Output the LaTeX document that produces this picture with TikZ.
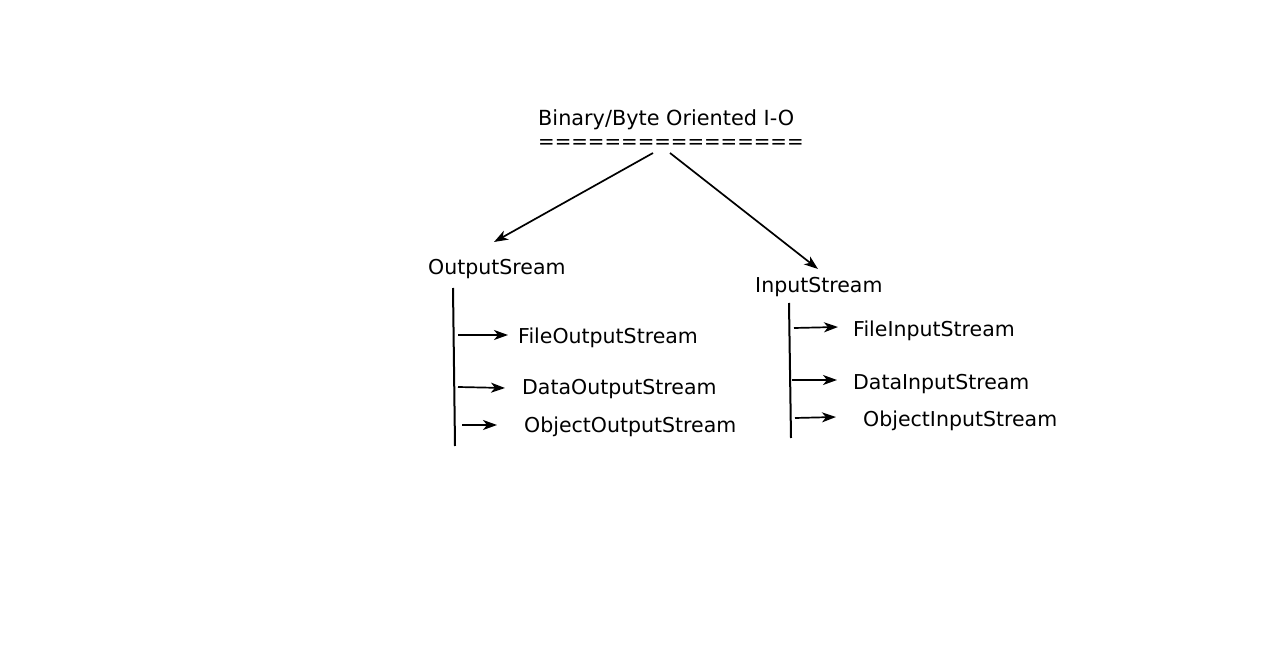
\documentclass[tikz,border=0pt]{standalone}
\usepackage{fontspec}
\setmainfont{DejaVu Sans}
\usetikzlibrary{arrows.meta}
\begin{document}
\begin{tikzpicture}[x=1pt,y=-1pt,
  lbl/.style={font=\fontsize{20.5}{24}\selectfont, inner sep=0pt, anchor=west, yshift=-2pt},
  conn/.style={line width=1.7pt, -{Stealth[length=14pt,width=10pt,inset=4pt]}},
  trunk/.style={line width=2pt}]
\useasboundingbox[fill=white] (0,0) rectangle (1280,660);
\node[lbl, font=\fontsize{20.8}{24}\selectfont] (title) at (538,118) {Binary/Byte Oriented I-O};
\node[lbl, font=\fontsize{19.8}{24}\selectfont] (eq) at (538,142) {================};
\coordinate (tl) at (653,153);
\coordinate (tr) at (670,153);
\node[lbl] (out) at (428,267) {OutputSream};
\node[lbl] (in) at (755,285) {InputStream};
\coordinate (outtip) at (494,242);
\coordinate (intip) at (818,269);
\draw[conn] (tl) -- (outtip);
\draw[conn] (tr) -- (intip);
% trunks
\coordinate (ot1) at (453,288); \coordinate (ot2) at (455,446);
\coordinate (it1) at (789,303); \coordinate (it2) at (791,438);
\draw[trunk] (ot1) -- (ot2);
\draw[trunk] (it1) -- (it2);
% output children
\node[lbl] (fos) at (518,336) {FileOutputStream};
\node[lbl] (dos) at (522,387) {DataOutputStream};
\node[lbl] (oos) at (524,425) {ObjectOutputStream};
\coordinate (a1) at (458,335); \coordinate (b1) at (508,335);
\coordinate (a2) at (458,387); \coordinate (b2) at (505,388);
\coordinate (a3) at (462,425); \coordinate (b3) at (497,425);
\draw[conn] (a1) -- (b1);
\draw[conn] (a2) -- (b2);
\draw[conn] (a3) -- (b3);
% input children
\node[lbl] (fis) at (853,329) {FileInputStream};
\node[lbl] (dis) at (853,382) {DataInputStream};
\node[lbl] (ois) at (863,419) {ObjectInputStream};
\coordinate (c1) at (794,328); \coordinate (d1) at (838,327);
\coordinate (c2) at (792,380); \coordinate (d2) at (837,380);
\coordinate (c3) at (795,418); \coordinate (d3) at (836,417);
\draw[conn] (c1) -- (d1);
\draw[conn] (c2) -- (d2);
\draw[conn] (c3) -- (d3);
\end{tikzpicture}
\end{document}
